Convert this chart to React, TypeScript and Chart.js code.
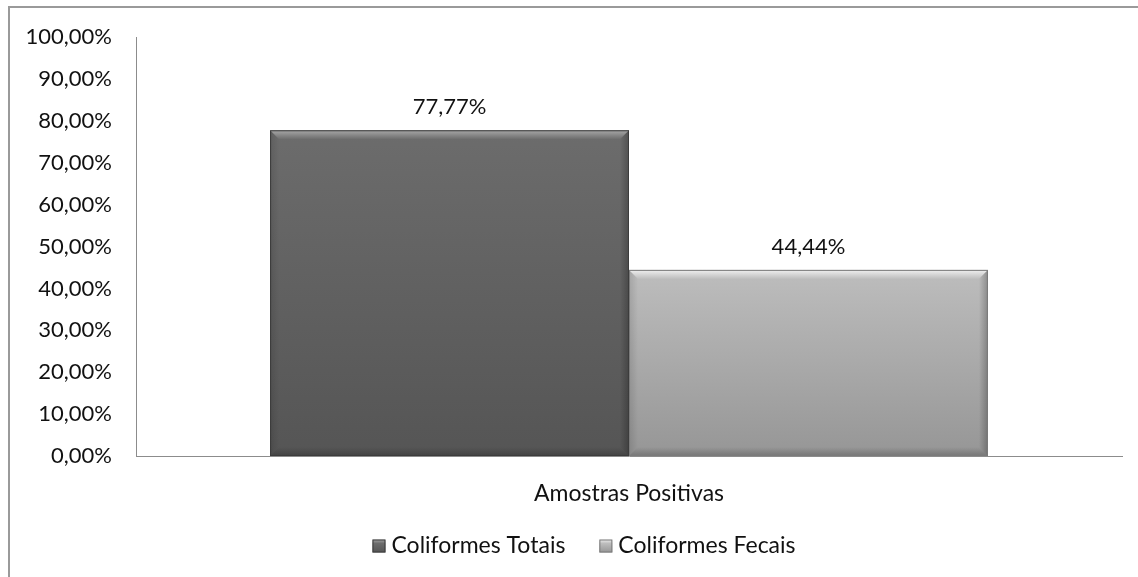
import React, { useEffect, useRef } from "react";
import { Chart, registerables } from "chart.js";

Chart.register(...registerables);

const categories = ["Amostras Positivas"];
const seriesNames = ["Coliformes Totais", "Coliformes Fecais"];
const totaisValues = [77.77];
const fecaisValues = [44.44];
const yTicks = [0, 10, 20, 30, 40, 50, 60, 70, 80, 90, 100];

const FONT = "Lato, 'Open Sans', sans-serif";
const TEXT = "#111111";
const fmt = (v: number) => v.toFixed(2).replace(".", ",") + "%";

const palettes = [
  { top: "#6c6c6c", bottom: "#555555", hi: "#a8a8a8", edge: "#3c3c3c" },
  { top: "#bdbdbd", bottom: "#969696", hi: "#f0f0f0", edge: "#7a7a7a" },
];

const bevelPlugin = {
  id: "bevel",
  afterDatasetsDraw(chart: any) {
    const ctx = chart.ctx;
    chart.data.datasets.forEach((ds: any, i: number) => {
      const meta = chart.getDatasetMeta(i);
      const p = palettes[i];
      meta.data.forEach((bar: any) => {
        const { x, y, base, width } = bar.getProps(["x", "y", "base", "width"], true);
        const l = x - width / 2;
        const r = x + width / 2;
        const t = y;
        const b = base;
        const bv = 9;
        ctx.save();
        const g = ctx.createLinearGradient(0, t, 0, b);
        g.addColorStop(0, p.top);
        g.addColorStop(1, p.bottom);
        ctx.fillStyle = g;
        ctx.fillRect(l, t, width, b - t);
        const gt = ctx.createLinearGradient(0, t, 0, t + bv);
        gt.addColorStop(0, p.hi);
        gt.addColorStop(1, p.top);
        ctx.fillStyle = gt;
        ctx.beginPath();
        ctx.moveTo(l, t);
        ctx.lineTo(r, t);
        ctx.lineTo(r - bv, t + bv);
        ctx.lineTo(l + bv, t + bv);
        ctx.closePath();
        ctx.fill();
        const gr = ctx.createLinearGradient(r - bv, 0, r, 0);
        gr.addColorStop(0, "rgba(0,0,0,0)");
        gr.addColorStop(1, "rgba(0,0,0,0.25)");
        ctx.fillStyle = gr;
        ctx.beginPath();
        ctx.moveTo(r, t);
        ctx.lineTo(r, b);
        ctx.lineTo(r - bv, b - bv);
        ctx.lineTo(r - bv, t + bv);
        ctx.closePath();
        ctx.fill();
        const gl = ctx.createLinearGradient(l, 0, l + bv, 0);
        gl.addColorStop(0, "rgba(0,0,0,0.12)");
        gl.addColorStop(1, "rgba(0,0,0,0)");
        ctx.fillStyle = gl;
        ctx.beginPath();
        ctx.moveTo(l, t);
        ctx.lineTo(l + bv, t + bv);
        ctx.lineTo(l + bv, b - bv);
        ctx.lineTo(l, b);
        ctx.closePath();
        ctx.fill();
        const gb = ctx.createLinearGradient(0, b - bv, 0, b);
        gb.addColorStop(0, "rgba(0,0,0,0)");
        gb.addColorStop(1, "rgba(0,0,0,0.22)");
        ctx.fillStyle = gb;
        ctx.beginPath();
        ctx.moveTo(l, b);
        ctx.lineTo(r, b);
        ctx.lineTo(r - bv, b - bv);
        ctx.lineTo(l + bv, b - bv);
        ctx.closePath();
        ctx.fill();
        ctx.strokeStyle = p.edge;
        ctx.lineWidth = 1;
        ctx.strokeRect(l + 0.5, t + 0.5, width - 1, b - t - 1);
        ctx.fillStyle = TEXT;
        ctx.font = "22px " + FONT;
        ctx.textAlign = "center";
        ctx.textBaseline = "bottom";
        ctx.fillText(fmt(ds.data[0]), x, t - 12);
        ctx.restore();
      });
    });
  },
};

const legendPlugin = {
  id: "customLegend",
  afterDraw(chart: any) {
    const ctx = chart.ctx;
    ctx.save();
    ctx.font = "23px " + FONT;
    const box = 13;
    const gap = 6;
    const spacing = 34;
    const items = chart.data.datasets.map((ds: any, i: number) => ({
      text: ds.label,
      w: ctx.measureText(ds.label).width,
      p: palettes[i],
    }));
    const total = items.reduce((s: number, it: any) => s + box + gap + it.w, 0) + spacing * (items.length - 1);
    let x = 584 - total / 2;
    const cy = 546;
    items.forEach((it: any) => {
      const g = ctx.createLinearGradient(0, cy - box / 2, 0, cy + box / 2);
      g.addColorStop(0, it.p.hi);
      g.addColorStop(0.3, it.p.top);
      g.addColorStop(1, it.p.bottom);
      ctx.fillStyle = g;
      ctx.fillRect(x, cy - box / 2, box, box);
      ctx.strokeStyle = it.p.edge;
      ctx.lineWidth = 1;
      ctx.strokeRect(x + 0.5, cy - box / 2 + 0.5, box - 1, box - 1);
      ctx.fillStyle = TEXT;
      ctx.textAlign = "left";
      ctx.textBaseline = "middle";
      ctx.fillText(it.text, x + box + gap, cy);
      x += box + gap + it.w + spacing;
    });
    ctx.restore();
  },
};

export default function App() {
  const ref = useRef<HTMLCanvasElement | null>(null);
  useEffect(() => {
    if (!ref.current) return;
    const chart = new Chart(ref.current, {
      type: "bar",
      data: {
        labels: categories,
        datasets: [
          { label: seriesNames[0], data: totaisValues, backgroundColor: "#5e5e5e", borderColor: "#3c3c3c", borderWidth: 1 },
          { label: seriesNames[1], data: fecaisValues, backgroundColor: "#b0b0b0", borderColor: "#7a7a7a", borderWidth: 1 },
        ],
      },
      options: {
        animation: false,
        responsive: false,
        maintainAspectRatio: false,
        layout: { padding: { top: 33, right: 16, left: 0, bottom: 10 } },
        datasets: { bar: { categoryPercentage: 0.728, barPercentage: 1 } },
        plugins: {
          tooltip: { enabled: false },
          legend: { display: false },
        },
        scales: {
          x: {
            grid: { display: false, drawTicks: false },
            border: { display: true, color: "#8c8c8c", width: 1 },
            ticks: { color: TEXT, font: { family: FONT, size: 23 }, padding: 24 },
            afterFit: (s: any) => { s.height = 111; },
          },
          y: {
            min: 0,
            max: 100,
            afterBuildTicks: (s: any) => { s.ticks = yTicks.map((v) => ({ value: v })); },
            grid: { display: false, drawTicks: false },
            border: { display: true, color: "#8c8c8c", width: 1 },
            ticks: { color: TEXT, font: { family: FONT, size: 22 }, padding: 24, callback: (v: any) => fmt(Number(v)) },
            afterFit: (s: any) => { s.width = 136; },
          },
        },
      },
      plugins: [bevelPlugin, legendPlugin],
    });
    return () => chart.destroy();
  }, []);
  return (
    <div style={{ position: "fixed", left: 0, top: 0, width: 1138, height: 577, overflow: "hidden", background: "#fff" }}>
      <canvas ref={ref} width={1138} height={577} style={{ position: "absolute", left: 0, top: 0, width: 1138, height: 577 }} />
      <div style={{ position: "absolute", left: 8, top: 6, width: 3000, height: 3000, borderTop: "2px solid #9a9a9a", borderLeft: "2px solid #9a9a9a", pointerEvents: "none" }} />
    </div>
  );
}
